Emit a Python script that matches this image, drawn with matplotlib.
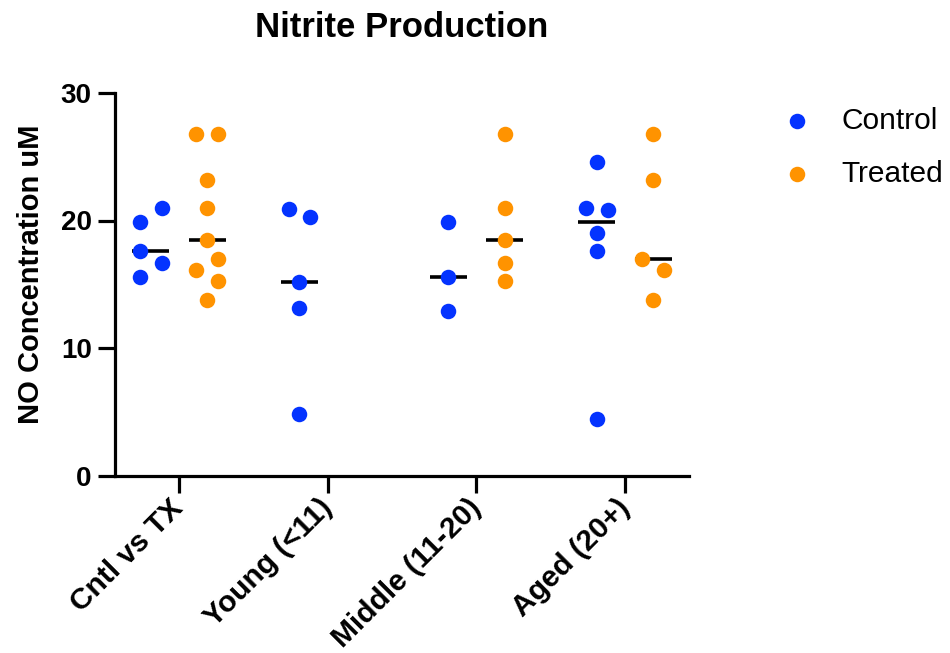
import numpy as np
from matplotlib import pyplot as plt

plt.rcParams['font.family'] = ['Liberation Sans', 'DejaVu Sans']

groups = ["Cntl vs TX", "Young (<11)", "Middle (11-20)", "Aged (20+)"]

# replicate values per group, NO concentration (uM)
control = [
    [21.0, 16.7, 19.85, 17.6, 15.6],
    [20.3, 20.87, 15.2, 13.15, 4.8],
    [19.85, 15.6, 12.9],
    [24.6, 20.8, 21.0, 19.0, 17.6, 4.45],
]
treated = [
    [26.8, 26.8, 23.2, 20.95, 18.5, 16.97, 16.1, 15.24, 13.75],
    [],
    [26.8, 20.95, 18.5, 16.7, 15.24],
    [26.8, 23.2, 16.1, 16.95, 13.75],
]

BLUE = '#0433FF'
ORANGE = '#FF9300'
MARKER_PX = 15.5
DPI = 100


def swarm_offsets(values, dy, dx):
    """Points closer than dy in value form a cluster; alternate sides
    inside a cluster, first listed point goes right."""
    values = np.asarray(values, dtype=float)
    offsets = np.zeros(len(values))
    if len(values) == 0:
        return offsets
    order = np.argsort(values, kind='stable')
    clusters = [[order[0]]]
    for i in order[1:]:
        if values[i] - values[clusters[-1][-1]] < dy:
            clusters[-1].append(i)
        else:
            clusters.append([i])
    for cl in clusters:
        if len(cl) < 2:
            continue
        first = min(cl)
        k0 = cl.index(first)
        for k, i in enumerate(cl):
            offsets[i] = dx if (k - k0) % 2 == 0 else -dx
    return offsets


fig = plt.figure(figsize=(9.5, 6.53), dpi=DPI)
ax = fig.add_axes([115 / 950, 1 - 475.5 / 653, 574 / 950, 382.5 / 653])
ax.set_xlim(-0.43, 3.43)
ax.set_ylim(0, 30)

# marker size in data units, for laying out the swarms
px_per_y = ax.bbox.height / 30
px_per_x = ax.bbox.width / 3.86
dy = MARKER_PX / px_per_y
dx = 0.7 * MARKER_PX / px_per_x

shift = 0.19
half = 0.125
s = (MARKER_PX * 72 / DPI) ** 2

for i in range(len(groups)):
    for vals, sign, color, label in [(control[i], -1, BLUE, 'Control'),
                                     (treated[i], 1, ORANGE, 'Treated')]:
        if not vals:
            continue
        xc = i + sign * shift
        xs = xc + swarm_offsets(vals, dy, dx)
        med = np.median(vals)
        ax.plot([xc - half, xc + half], [med, med], color='black', lw=2.6,
                solid_capstyle='butt', zorder=2)
        ax.scatter(xs, vals, s=s, color=color, linewidths=0, zorder=3,
                   label=label if i == 0 else None)

for side in ['top', 'right']:
    ax.spines[side].set_visible(False)
for side in ['left', 'bottom']:
    ax.spines[side].set_linewidth(2.3)

ax.set_yticks([0, 10, 20, 30])
ax.set_xticks(range(len(groups)))
ax.set_xticklabels(groups, rotation=45, ha='right', va='center',
                   rotation_mode='anchor')
ax.tick_params(axis='both', length=12.2, width=2.3)
ax.tick_params(axis='y', pad=4.5, labelsize=20)
ax.tick_params(axis='x', pad=8, labelsize=21.5)
for lab in ax.get_xticklabels() + ax.get_yticklabels():
    lab.set_fontweight('bold')

ax.set_ylabel("NO Concentration uM", fontsize=21, fontweight='bold')
ax.yaxis.set_label_coords(-0.122, 0.527)
ax.set_title("Nitrite Production", fontsize=25, fontweight='bold', pad=40)

ax.legend(loc='upper left', bbox_to_anchor=(782 / 950, 1 - 107 / 653),
          bbox_transform=fig.transFigure, frameon=False, fontsize=21.5,
          borderpad=0, borderaxespad=0, handlelength=1.0, handletextpad=1.0,
          labelspacing=0.83, markerscale=1.0)

fig.savefig('out.png', dpi=DPI)
